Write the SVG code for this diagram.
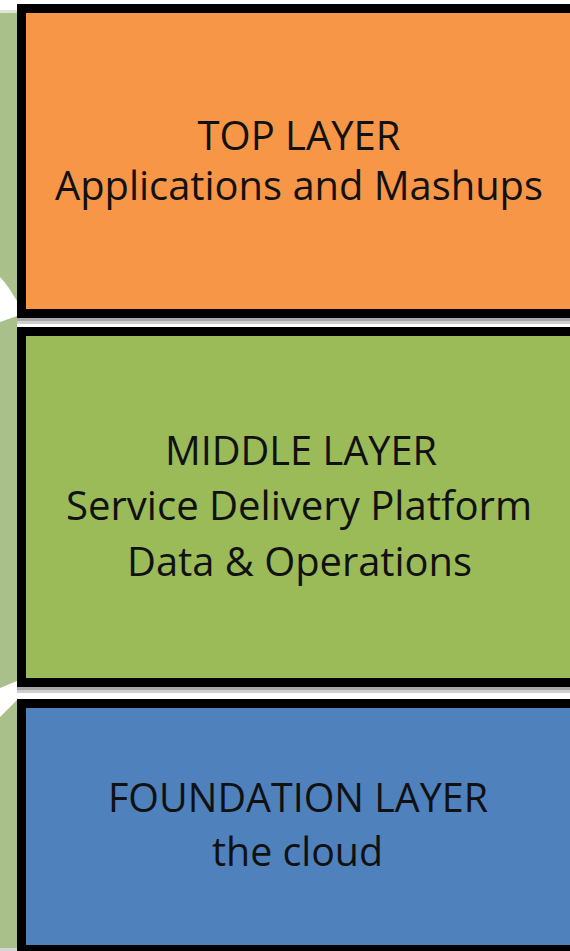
<svg xmlns="http://www.w3.org/2000/svg" width="570" height="951" viewBox="0 0 570 951">
<style>
.box{stroke:#000;stroke-width:9}
.t{font-family:"Open Sans","Noto Sans","Liberation Sans",sans-serif;font-size:40px;fill:#111;text-anchor:middle}
.sh1{fill:#a8a8a8}.sh2{fill:#cfcfcf}
</style>
<rect width="570" height="951" fill="#ffffff"/>
<g id="background-strip">
<rect x="0" y="10" width="17" height="3" fill="#dde6d1"/>
<rect x="0" y="13" width="17" height="935" fill="#aac08b"/>
<path d="M0,277 C6,283 11,291 17,301 L17,316 L0,322 Z" fill="#ffffff"/>
<path d="M0,688 L17,681 L17,700 L0,717 Z" fill="#ffffff"/>
<rect x="0" y="948" width="17" height="3" fill="#d6d6d6"/>
</g>
<g id="shadows">
<rect class="sh1" x="17" y="318" width="553" height="3"/>
<rect class="sh2" x="17" y="321" width="553" height="3"/>
<rect class="sh1" x="17" y="687" width="553" height="3"/>
<rect class="sh2" x="17" y="690" width="553" height="3"/>
</g>
<g id="top-layer">
<rect class="box" x="21.5" y="8.5" width="570" height="305" fill="#f79646"/>
<text class="t" x="299" y="150" textLength="203" lengthAdjust="spacingAndGlyphs">TOP LAYER</text>
<text class="t" x="299" y="200" textLength="488" lengthAdjust="spacingAndGlyphs">Applications and Mashups</text>
</g>
<g id="middle-layer">
<rect class="box" x="21.5" y="331.5" width="570" height="351" fill="#9bbb59"/>
<text class="t" x="301" y="465" textLength="272" lengthAdjust="spacingAndGlyphs">MIDDLE LAYER</text>
<text class="t" x="299" y="520" textLength="466" lengthAdjust="spacingAndGlyphs">Service Delivery Platform</text>
<text class="t" x="299.5" y="576" textLength="345" lengthAdjust="spacingAndGlyphs">Data &amp; Operations</text>
</g>
<g id="foundation-layer">
<rect class="box" x="21.5" y="703.5" width="570" height="246" fill="#4f81bd"/>
<text class="t" x="298" y="812" textLength="380" lengthAdjust="spacingAndGlyphs">FOUNDATION LAYER</text>
<text class="t" x="297.5" y="866" textLength="171" lengthAdjust="spacingAndGlyphs">the cloud</text>
</g>
<g id="connectors"></g>
</svg>
